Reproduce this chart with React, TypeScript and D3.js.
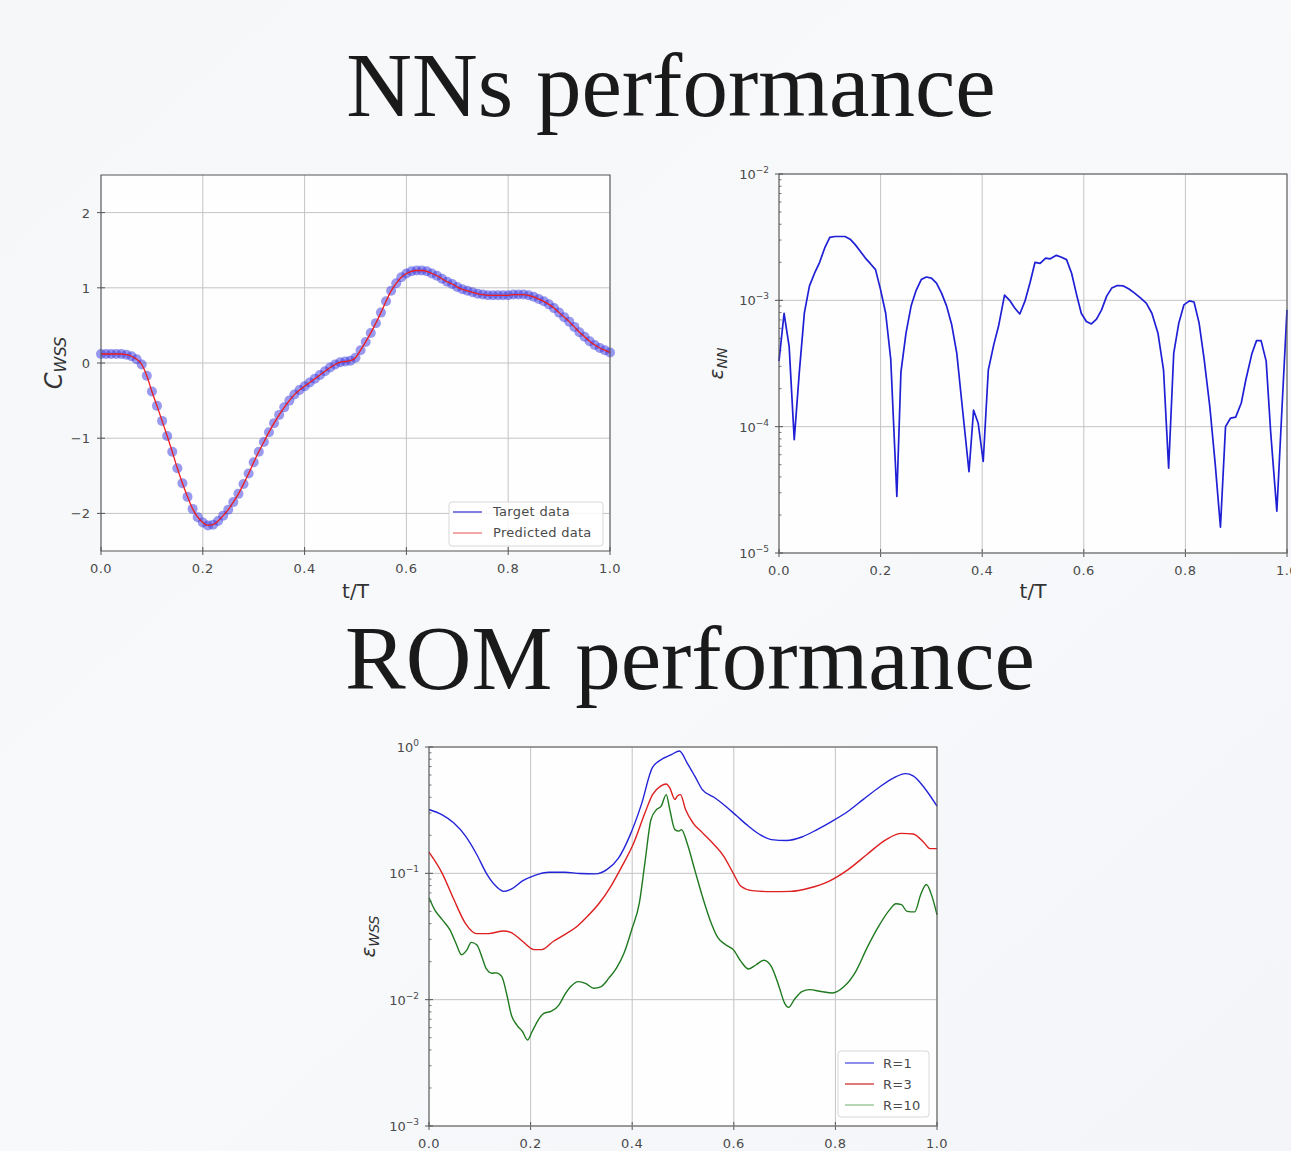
import React from 'react';
import * as d3 from 'd3';

const W = 1291;
const H = 1151;

// ---------- Data ----------
// NNs performance: C_WSS over t/T (sampled every 0.01)
const cwssTimes = d3.range(0, 101).map((i) => i / 100);
const cwssTarget = [
  0.12, 0.12, 0.12, 0.12, 0.12, 0.11, 0.09, 0.05, -0.02, -0.17,
  -0.38, -0.57, -0.77, -0.97, -1.18, -1.40, -1.60, -1.78, -1.94, -2.05,
  -2.12, -2.16, -2.15, -2.10, -2.03, -1.95, -1.85, -1.74, -1.61, -1.47,
  -1.32, -1.18, -1.05, -0.92, -0.80, -0.69, -0.59, -0.50, -0.42, -0.36,
  -0.31, -0.26, -0.21, -0.16, -0.11, -0.06, -0.02, 0.01, 0.02, 0.03,
  0.07, 0.17, 0.28, 0.40, 0.53, 0.67, 0.82, 0.96, 1.06, 1.14,
  1.19, 1.22, 1.23, 1.23, 1.22, 1.19, 1.16, 1.12, 1.08, 1.05,
  1.01, 0.98, 0.96, 0.94, 0.92, 0.91, 0.90, 0.90, 0.90, 0.90,
  0.90, 0.91, 0.91, 0.91, 0.90, 0.88, 0.85, 0.82, 0.78, 0.73,
  0.67, 0.61, 0.55, 0.48, 0.41, 0.35, 0.29, 0.24, 0.20, 0.17,
  0.14,
];
const cwssPredicted = cwssTarget;

// NNs error eps_NN
const nnT = [
  0, 0.01, 0.02, 0.03, 0.04, 0.05, 0.06, 0.07, 0.08, 0.09,
  0.1, 0.11, 0.12, 0.13, 0.14, 0.15, 0.16, 0.17, 0.18, 0.19,
  0.2, 0.21, 0.22, 0.232, 0.24, 0.25, 0.26, 0.27, 0.28, 0.29,
  0.3, 0.31, 0.32, 0.33, 0.34, 0.35, 0.36, 0.374, 0.383, 0.392,
  0.402, 0.412, 0.423, 0.432, 0.444, 0.454, 0.464, 0.474, 0.484, 0.494,
  0.504, 0.514, 0.525, 0.534, 0.546, 0.555, 0.566, 0.576, 0.586, 0.595,
  0.605, 0.615, 0.625, 0.635, 0.645, 0.655, 0.666, 0.678, 0.689, 0.7,
  0.712, 0.723, 0.734, 0.746, 0.757, 0.767, 0.777, 0.787, 0.797, 0.808,
  0.817, 0.827, 0.837, 0.848, 0.859, 0.869, 0.879, 0.889, 0.899, 0.91,
  0.919, 0.931, 0.94, 0.949, 0.959, 0.968, 0.98, 0.991, 1.0,
];
const nnErr = [
  3.3e-4, 7.9e-4, 4.3e-4, 7.9e-5, 2.7e-4, 8.0e-4, 1.3e-3, 1.64e-3, 2.0e-3, 2.6e-3,
  3.15e-3, 3.2e-3, 3.2e-3, 3.2e-3, 3.05e-3, 2.76e-3, 2.45e-3, 2.16e-3, 1.95e-3, 1.75e-3,
  1.21e-3, 7.9e-4, 3.4e-4, 2.8e-5, 2.7e-4, 5.5e-4, 9.0e-4, 1.2e-3, 1.46e-3, 1.53e-3,
  1.5e-3, 1.37e-3, 1.14e-3, 9.0e-4, 6.4e-4, 3.8e-4, 1.54e-4, 4.4e-5, 1.35e-4, 1.07e-4,
  5.3e-5, 2.8e-4, 4.5e-4, 6.2e-4, 1.1e-3, 1.0e-3, 8.7e-4, 7.8e-4, 9.8e-4, 1.37e-3,
  2.0e-3, 1.96e-3, 2.16e-3, 2.13e-3, 2.27e-3, 2.2e-3, 2.1e-3, 1.64e-3, 1.1e-3, 7.9e-4,
  6.8e-4, 6.5e-4, 7.1e-4, 8.4e-4, 1.08e-3, 1.25e-3, 1.31e-3, 1.3e-3, 1.23e-3, 1.14e-3,
  1.04e-3, 9.5e-4, 7.9e-4, 5.5e-4, 2.8e-4, 4.7e-5, 3.8e-4, 6.6e-4, 9.2e-4, 9.9e-4,
  9.7e-4, 6.6e-4, 3.4e-4, 1.45e-4, 4.9e-5, 1.6e-5, 1.0e-4, 1.17e-4, 1.19e-4, 1.54e-4,
  2.35e-4, 3.8e-4, 4.8e-4, 4.8e-4, 3.3e-4, 8.9e-5, 2.14e-5, 1.64e-4, 8.4e-4,
];

// ROM performance: eps_WSS for R = 1, 3, 10
const r1T = [
  0, 0.026, 0.049, 0.072, 0.094, 0.113, 0.132, 0.147, 0.162, 0.184,
  0.207, 0.237, 0.267, 0.297, 0.328, 0.35, 0.373, 0.395, 0.418, 0.44,
  0.463, 0.478, 0.493, 0.508, 0.523, 0.538, 0.561, 0.584, 0.606, 0.629,
  0.651, 0.674, 0.704, 0.734, 0.764, 0.794, 0.825, 0.855, 0.885, 0.915,
  0.938, 0.953, 0.975, 1.0,
];
const r1Err = [
  0.32, 0.29, 0.25, 0.197, 0.141, 0.10, 0.079, 0.072, 0.075, 0.087,
  0.096, 0.102, 0.102, 0.0996, 0.099, 0.107, 0.132, 0.197, 0.35, 0.69,
  0.82, 0.875, 0.93, 0.75, 0.59, 0.46, 0.40, 0.34, 0.284, 0.236,
  0.203, 0.185, 0.182, 0.194, 0.222, 0.259, 0.31, 0.385, 0.476, 0.57,
  0.615, 0.59, 0.476, 0.34,
];
const r3T = [
  0, 0.026, 0.049, 0.072, 0.094, 0.117, 0.147, 0.162, 0.184, 0.207,
  0.222, 0.245, 0.267, 0.29, 0.312, 0.335, 0.358, 0.38, 0.403, 0.425,
  0.44, 0.456, 0.467, 0.474, 0.484, 0.489, 0.495, 0.505, 0.52, 0.538,
  0.561, 0.58, 0.599, 0.614, 0.636, 0.674, 0.712, 0.749, 0.787, 0.825,
  0.862, 0.9, 0.93, 0.953, 0.975, 0.986, 1.0,
];
const r3Err = [
  0.147, 0.10, 0.062, 0.040, 0.0333, 0.0333, 0.035, 0.034, 0.029, 0.0249,
  0.0249, 0.029, 0.0327, 0.0376, 0.0457, 0.058, 0.079, 0.114, 0.174, 0.30,
  0.42, 0.49, 0.51, 0.475, 0.385, 0.41, 0.42, 0.32, 0.25, 0.21,
  0.169, 0.137, 0.10, 0.079, 0.073, 0.0717, 0.072, 0.0766, 0.0865, 0.107,
  0.141, 0.185, 0.207, 0.205, 0.174, 0.157, 0.157,
];
const r10T = [
  0, 0.011, 0.026, 0.041, 0.053, 0.064, 0.075, 0.083, 0.094, 0.105,
  0.113, 0.124, 0.132, 0.143, 0.154, 0.162, 0.173, 0.184, 0.194, 0.203,
  0.215, 0.226, 0.241, 0.256, 0.267, 0.279, 0.294, 0.309, 0.324, 0.339,
  0.354, 0.369, 0.384, 0.399, 0.414, 0.425, 0.437, 0.448, 0.457, 0.467,
  0.474, 0.484, 0.492, 0.497, 0.508, 0.523, 0.538, 0.553, 0.569, 0.584,
  0.599, 0.614, 0.629, 0.644, 0.659, 0.674, 0.689, 0.7, 0.708, 0.719,
  0.734, 0.749, 0.772, 0.794, 0.817, 0.84, 0.862, 0.885, 0.907, 0.919,
  0.93, 0.941, 0.956, 0.968, 0.979, 0.99, 1.0,
];
const r10Err = [
  0.064, 0.0516, 0.043, 0.0358, 0.028, 0.0227, 0.0249, 0.0284, 0.0272, 0.0213,
  0.0175, 0.0162, 0.0163, 0.0153, 0.0106, 0.0076, 0.0063, 0.0056, 0.0048, 0.0056,
  0.0069, 0.0078, 0.0081, 0.0091, 0.0109, 0.0127, 0.0139, 0.0134, 0.0123, 0.0127,
  0.0148, 0.0178, 0.0234, 0.0358, 0.058, 0.121, 0.267, 0.32, 0.34, 0.42,
  0.32, 0.222, 0.216, 0.222, 0.174, 0.107, 0.066, 0.043, 0.0308, 0.0272,
  0.0249, 0.0201, 0.0175, 0.0189, 0.0205, 0.0183, 0.0127, 0.0094, 0.0087, 0.0100,
  0.0116, 0.012, 0.0116, 0.0113, 0.0127, 0.0167, 0.0256, 0.038, 0.0516, 0.0575,
  0.0565, 0.050, 0.0495, 0.068, 0.0815, 0.066, 0.047,
];

const xTicks = [0, 0.2, 0.4, 0.6, 0.8, 1.0];
const cwssTicks = [-2, -1, 0, 1, 2];
const nnTicks = [1e-5, 1e-4, 1e-3, 1e-2];
const romTicks = [1e-3, 1e-2, 1e-1, 1e0];
const cwssLegend = ['Target data', 'Predicted data'];
const romLegend = ['R=1', 'R=3', 'R=10'];

// ---------- Style ----------
const TICK_FONT = 'DejaVu Sans, sans-serif';
const TICK_COLOR = '#4a4a4a';
const GRID = '#c4c4c4';
const SPINE = '#555';

type Box = { x0: number; x1: number; y0: number; y1: number };

function Frame({ box }: { box: Box }) {
  return (
    <rect
      x={box.x0}
      y={box.y0}
      width={box.x1 - box.x0}
      height={box.y1 - box.y0}
      fill="none"
      stroke={SPINE}
      strokeWidth={1}
    />
  );
}

function XAxis({ box, x }: { box: Box; x: d3.ScaleLinear<number, number> }) {
  return (
    <g>
      {xTicks.map((t) => (
        <g key={t}>
          <line x1={x(t)} x2={x(t)} y1={box.y0} y2={box.y1} stroke={GRID} strokeWidth={1} />
          <line x1={x(t)} x2={x(t)} y1={box.y1 - 4} y2={box.y1 + 4} stroke={SPINE} strokeWidth={1} />
          <text
            x={x(t)}
            y={box.y1 + 22}
            textAnchor="middle"
            fontFamily={TICK_FONT}
            fontSize={13}
            fill={TICK_COLOR}
            letterSpacing={0.5}
          >
            {d3.format('.1f')(t)}
          </text>
        </g>
      ))}
    </g>
  );
}

function LogYAxis({ box, y, ticks }: { box: Box; y: d3.ScaleLogarithmic<number, number>; ticks: number[] }) {
  const minors: number[] = [];
  for (let i = 0; i < ticks.length - 1; i++) {
    for (let m = 2; m <= 9; m++) minors.push(ticks[i] * m);
  }
  return (
    <g>
      {ticks.map((t) => {
        const e = Math.round(Math.log10(t));
        return (
          <g key={t}>
            <line x1={box.x0} x2={box.x1} y1={y(t)} y2={y(t)} stroke={GRID} strokeWidth={1} />
            <line x1={box.x0 - 4} x2={box.x0 + 4} y1={y(t)} y2={y(t)} stroke={SPINE} strokeWidth={1} />
            <text
              x={box.x0 - 10}
              y={y(t) + 5}
              textAnchor="end"
              fontFamily={TICK_FONT}
              fontSize={13}
              fill={TICK_COLOR}
            >
              <tspan>10</tspan>
              <tspan dy={-6} fontSize={9}>
                {e < 0 ? '\u2212' + Math.abs(e) : String(e)}
              </tspan>
            </text>
          </g>
        );
      })}
      {minors.map((m) => (
        <line key={m} x1={box.x0} x2={box.x0 + 2.5} y1={y(m)} y2={y(m)} stroke={SPINE} strokeWidth={0.8} />
      ))}
    </g>
  );
}

function CwssPanel() {
  const box: Box = { x0: 101, x1: 610, y0: 175, y1: 551 };
  const x = d3.scaleLinear().domain([0, 1]).range([box.x0, box.x1]);
  const y = d3.scaleLinear().domain([-2.5, 2.5]).range([box.y1, box.y0]);
  const line = d3
    .line<number>()
    .x((_, i) => x(cwssTimes[i]))
    .y((d) => y(d))
    .curve(d3.curveMonotoneX);
  const lx = 449;
  const ly = 502;
  return (
    <g>
      <rect x={box.x0} y={box.y0} width={box.x1 - box.x0} height={box.y1 - box.y0} fill="#ffffff" opacity={0.85} />
      <XAxis box={box} x={x} />
      {cwssTicks.map((t) => (
        <g key={t}>
          <line x1={box.x0} x2={box.x1} y1={y(t)} y2={y(t)} stroke={GRID} strokeWidth={1} />
          <line x1={box.x0 - 4} x2={box.x0 + 4} y1={y(t)} y2={y(t)} stroke={SPINE} strokeWidth={1} />
          <text
            x={box.x0 - 11}
            y={y(t) + 5}
            textAnchor="end"
            fontFamily={TICK_FONT}
            fontSize={13}
            fill={TICK_COLOR}
          >
            {t < 0 ? '\u2212' + Math.abs(t) : String(t)}
          </text>
        </g>
      ))}
      {cwssTarget.map((v, i) => (
        <circle key={i} cx={x(cwssTimes[i])} cy={y(v)} r={5} fill="#3333e0" fillOpacity={0.5} />
      ))}
      <path d={line(cwssPredicted) || ''} fill="none" stroke="#ee1c1c" strokeWidth={1.3} />
      <Frame box={box} />
      {/* legend */}
      <rect x={lx} y={ly} width={154} height={44} rx={3} fill="#ffffff" fillOpacity={0.85} stroke="#d8d8d8" />
      <line x1={lx + 4} x2={lx + 33} y1={ly + 10} y2={ly + 10} stroke="#3b3bd0" strokeWidth={1.3} />
      <line x1={lx + 4} x2={lx + 33} y1={ly + 31} y2={ly + 31} stroke="#f08a8a" strokeWidth={1.5} />
      {cwssLegend.map((s, i) => (
        <text key={s} x={lx + 44} y={ly + 14 + i * 21} fontFamily={TICK_FONT} fontSize={13} fill={TICK_COLOR} letterSpacing={0.3}>
          {s}
        </text>
      ))}
      <text x={(box.x0 + box.x1) / 2} y={598} textAnchor="middle" fontFamily={TICK_FONT} fontSize={20} fill="#333">
        t/T
      </text>
      <text transform={`translate(62,${(box.y0 + box.y1) / 2}) rotate(-90)`} textAnchor="middle" fontFamily={TICK_FONT} fill="#333">
        <tspan fontSize={24} fontStyle="italic">C</tspan>
        <tspan fontSize={16} fontStyle="italic" dy={4}>WSS</tspan>
      </text>
    </g>
  );
}

function NNPanel() {
  const box: Box = { x0: 779, x1: 1287, y0: 174, y1: 553 };
  const x = d3.scaleLinear().domain([0, 1]).range([box.x0, box.x1]);
  const y = d3.scaleLog().domain([1e-5, 1e-2]).range([box.y1, box.y0]);
  const line = d3
    .line<number>()
    .x((_, i) => x(nnT[i]))
    .y((d) => y(d));
  return (
    <g>
      <rect x={box.x0} y={box.y0} width={box.x1 - box.x0} height={box.y1 - box.y0} fill="#ffffff" opacity={0.85} />
      <XAxis box={box} x={x} />
      <LogYAxis box={box} y={y} ticks={nnTicks} />
      <path d={line(nnErr) || ''} fill="none" stroke="#1f1fd6" strokeWidth={1.7} strokeLinejoin="round" />
      <Frame box={box} />
      <text x={(box.x0 + box.x1) / 2} y={598} textAnchor="middle" fontFamily={TICK_FONT} fontSize={20} fill="#333">
        t/T
      </text>
      <text transform={`translate(723,${(box.y0 + box.y1) / 2}) rotate(-90)`} textAnchor="middle" fontFamily={TICK_FONT} fill="#333">
        <tspan fontSize={20} fontStyle="italic">ε</tspan>
        <tspan fontSize={14} fontStyle="italic" dy={4}>NN</tspan>
      </text>
    </g>
  );
}

function RomPanel() {
  const box: Box = { x0: 429, x1: 937, y0: 747, y1: 1126 };
  const x = d3.scaleLinear().domain([0, 1]).range([box.x0, box.x1]);
  const y = d3.scaleLog().domain([1e-3, 1]).range([box.y1, box.y0]);
  const series = [
    { t: r1T, v: r1Err, color: '#2323d8' },
    { t: r3T, v: r3Err, color: '#dd1f1f' },
    { t: r10T, v: r10Err, color: '#1f7a1f' },
  ];
  const legendColors = ['#5050e0', '#d03030', '#8fc08f'];
  const lx = 838;
  const ly = 1051;
  return (
    <g>
      <rect x={box.x0} y={box.y0} width={box.x1 - box.x0} height={box.y1 - box.y0} fill="#ffffff" opacity={0.85} />
      <XAxis box={box} x={x} />
      <LogYAxis box={box} y={y} ticks={romTicks} />
      {series.map((s, k) => {
        const line = d3
          .line<number>()
          .x((_, i) => x(s.t[i]))
          .y((d) => y(d))
          .curve(d3.curveMonotoneX);
        return <path key={k} d={line(s.v) || ''} fill="none" stroke={s.color} strokeWidth={1.4} />;
      })}
      <Frame box={box} />
      <rect x={lx} y={ly} width={91} height={66} rx={3} fill="#ffffff" fillOpacity={0.85} stroke="#d8d8d8" />
      {romLegend.map((s, i) => (
        <g key={s}>
          <line x1={lx + 7} x2={lx + 36} y1={ly + 12 + i * 21} y2={ly + 12 + i * 21} stroke={legendColors[i]} strokeWidth={1.3} />
          <text x={lx + 45} y={ly + 17 + i * 21} fontFamily={TICK_FONT} fontSize={13} fill={TICK_COLOR} letterSpacing={0.3}>
            {s}
          </text>
        </g>
      ))}
      <text transform={`translate(375,${(box.y0 + box.y1) / 2}) rotate(-90)`} textAnchor="middle" fontFamily={TICK_FONT} fill="#333">
        <tspan fontSize={20} fontStyle="italic">ε</tspan>
        <tspan fontSize={14} fontStyle="italic" dy={4}>WSS</tspan>
      </text>
    </g>
  );
}

export default function App() {
  return (
    <div style={{ position: 'absolute', left: 0, top: 0, width: W, height: H }}>
      <svg width={W} height={H} viewBox={`0 0 ${W} ${H}`} style={{ display: 'block' }}>
        <defs>
          <linearGradient id="bg" x1="0" y1="0" x2="1" y2="1">
            <stop offset="0" stopColor="#f6f7f9" />
            <stop offset="0.5" stopColor="#f8f9fb" />
            <stop offset="1" stopColor="#f3f5f8" />
          </linearGradient>
        </defs>
        <rect x={0} y={0} width={W} height={H} fill="url(#bg)" />
        <text x={671} y={116} textAnchor="middle" fontFamily="Liberation Serif, Times New Roman, serif" fontSize={91} fill="#1a1a1a">
          NNs performance
        </text>
        <text x={690} y={689} textAnchor="middle" fontFamily="Liberation Serif, Times New Roman, serif" fontSize={91} fill="#1a1a1a">
          ROM performance
        </text>
        <CwssPanel />
        <NNPanel />
        <RomPanel />
      </svg>
    </div>
  );
}
